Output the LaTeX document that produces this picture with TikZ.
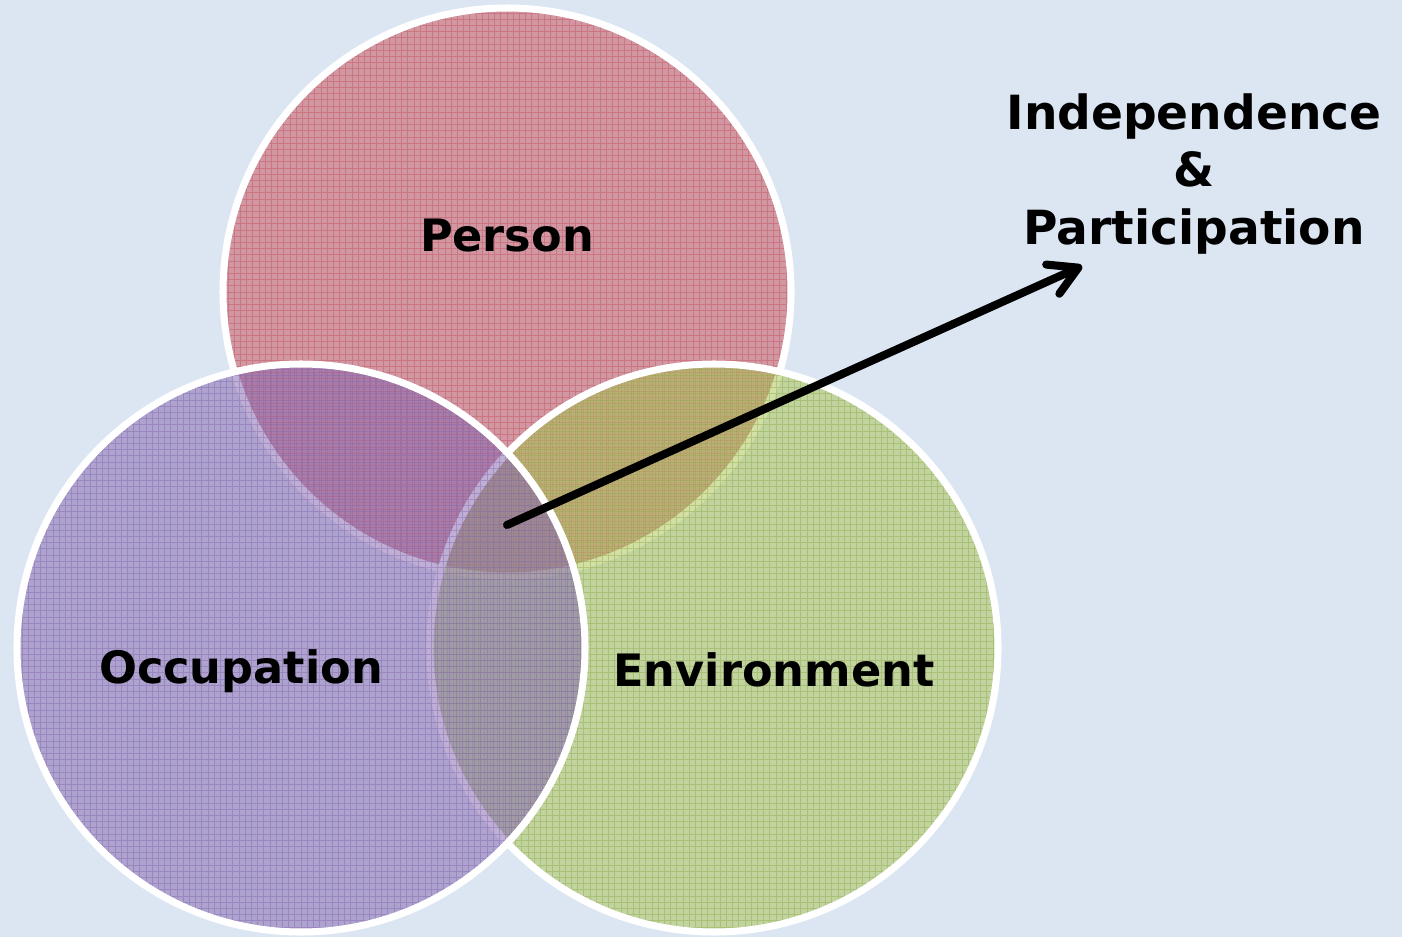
\documentclass[tikz,border=0pt]{standalone}
\usepackage{fontspec}
\setmainfont{DejaVu Sans}
\usetikzlibrary{arrows.meta}
\definecolor{bgblue}{RGB}{220,230,242}
\definecolor{personred}{RGB}{200,80,90}
\definecolor{occpurple}{RGB}{133,103,175}
\definecolor{envgreen}{RGB}{169,197,84}

\begin{document}
\begin{tikzpicture}[ring/.style = {circle, draw=white, line width=2pt, minimum size=5.68cm, inner sep=0pt, fill opacity=0.52},
		mesh/.style = {path picture={\draw[#1, line width=0.25pt, draw opacity=0.45, step=0.062cm] (path picture bounding box.south west) grid (path picture bounding box.north east);}},
		tag/.style = {font=\fontsize{12.7}{16}\selectfont\bfseries},
		goaltag/.style = {font=\fontsize{13.4}{16.4}\selectfont\bfseries, align=center}] 
			\useasboundingbox (0,0) rectangle (14.02,9.37);
			\fill[bgblue] (0,0) rectangle (14.02,9.37);
			\node[ring, fill=personred, mesh=personred] (person) at (5.07,6.45) {};
			\node[ring, fill=envgreen, mesh=envgreen!85!black] (environment) at (7.14,2.89) {};
			\node[ring, fill=occpurple, mesh=occpurple] (occupation) at (3.01,2.89) {};
			\node[tag] (p) at (5.07,7.01) {Person};
			\node[tag] (o) at (2.41,2.66) {Occupation};
			\node[tag] (e) at (7.74,2.67) {Environment};
			\node[goaltag] (goal) at (11.94,7.63) {Independence\\\&\\Participation};
			\coordinate (hub) at (5.07,4.12);
			\coordinate (tip) at (10.82,6.71);
			\draw[-{Straight Barb[length=2.8mm, width=3.2mm, round]}, line width=2.3pt, line cap=round] (hub) -- (tip);
		\end{tikzpicture}
\end{document}
